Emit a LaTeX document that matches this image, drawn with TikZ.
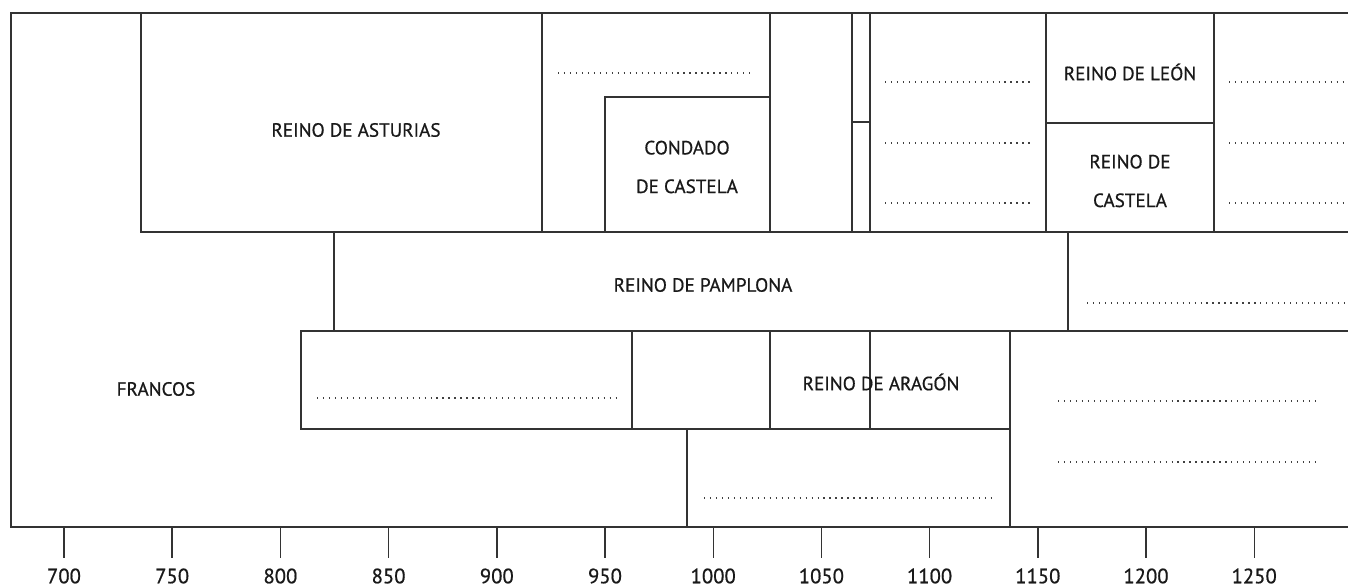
\documentclass[tikz,border=0pt]{standalone}
\usepackage{fontspec}
\setmainfont{PT Sans}
\newfontfamily\chartfont{PT Sans}[FakeBold=0.7]
\usepackage{tikz}
\usetikzlibrary{positioning}

\begin{document}
\begin{tikzpicture}[x=0.02cm, y=-0.02cm,
    every node/.style={font=\chartfont\fontsize{10.9}{13}\selectfont, text=black!90},
    rule/.style={draw=black!80, line width=1.05pt},
    blank/.style={draw=black!75, line width=0.7pt, dash pattern=on 0.7pt off 2.7pt},
    year/.style={font=\chartfont\fontsize{11.8}{13}\selectfont}]
  \useasboundingbox (0,0) rectangle (1348,587);
  % ---- outer frame ----
  \draw[rule] (1348,13) -- (11,13) -- (11,527) -- (1348,527);
  % ---- top row ----
  \draw[rule] (141,13) -- (141,232) -- (1348,232);
  \draw[rule] (542,13) -- (542,232);
  \draw[rule] (605,232) -- (605,97) -- (770,97);
  \draw[rule] (770,13) -- (770,232);
  \draw[rule] (852,13) -- (852,232);
  \draw[rule] (870,13) -- (870,232);
  \draw[rule] (852,122) -- (870,122);
  \draw[rule] (1046,13) -- (1046,232);
  \draw[rule] (1046,123) -- (1214,123);
  \draw[rule] (1214,13) -- (1214,232);
  \node (asturias) at (356,130) {REINO DE ASTURIAS};
  \node[align=center] (condado) at (687,167) {CONDADO\\[9pt]DE CASTELA};
  \node (leon) at (1130,72) {REINO DE LEÓN};
  \node[align=center] (castela) at (1130,181) {REINO DE\\[9pt]CASTELA};
  \draw[blank] (558,73) -- (753,73);
  \foreach \y in {82,143,203} {
    \draw[blank] (885,\y) -- (1032,\y);
    \draw[blank] (1229,\y) -- (1345,\y);
  }
  % ---- Pamplona row ----
  \draw[rule] (334,232) -- (334,331);
  \draw[rule] (1068,232) -- (1068,331);
  \node (pamplona) at (703,285) {REINO DE PAMPLONA};
  \draw[blank] (1087,303) -- (1345,303);
  % ---- lower rows ----
  \draw[rule] (1348,331) -- (301,331) -- (301,429) -- (1010,429);
  \draw[rule] (632,331) -- (632,429);
  \draw[rule] (770,331) -- (770,429);
  \draw[rule] (870,331) -- (870,429);
  \draw[rule] (1010,331) -- (1010,527);
  \draw[rule] (687,429) -- (687,527);
  \node (francos) at (156,389) {FRANCOS};
  \node (aragon) at (881,382) {REINO DE ARAGÓN};
  \draw[blank] (317,398) -- (618,398);
  \draw[blank] (1058,401) -- (1315,401);
  \draw[blank] (1058,462) -- (1315,462);
  \draw[blank] (704,498) -- (996,498);
  % ---- time axis ----
  \foreach \yr in {700,750,...,1250} {
    \pgfmathsetmacro{\px}{64+(\yr-700)*2.164}
    \draw[black!80, line width=0.8pt] (\px,528) -- (\px,558);
    \node[year] (y\yr) at (\px,576) {\yr};
  }
\end{tikzpicture}
\end{document}
